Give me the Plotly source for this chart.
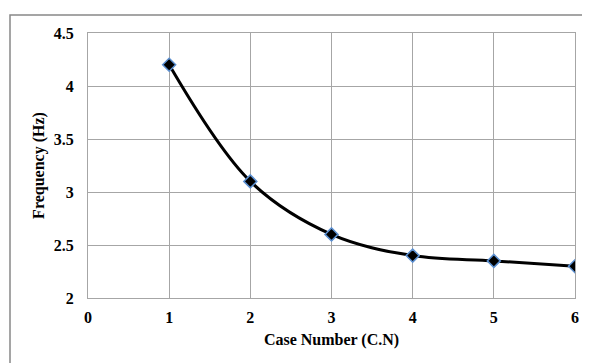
import plotly.graph_objects as go

case_numbers = [1, 2, 3, 4, 5, 6]
frequency = [4.2, 3.1, 2.6, 2.4, 2.35, 2.3]
x_ticks = [0, 1, 2, 3, 4, 5, 6]
y_ticks = [2, 2.5, 3, 3.5, 4, 4.5]

font = dict(family="Liberation Serif", color="black", size=16)

fig = go.Figure()
fig.add_trace(go.Scatter(
    x=case_numbers, y=frequency, mode="lines+markers",
    line=dict(color="black", width=3, shape="spline", smoothing=1.0),
    marker=dict(symbol="diamond", size=10, color="black",
                line=dict(color="#5b8fd0", width=1.5)),
    showlegend=False,
))

# page body adds an 8px offset, so the figure is sized 8px smaller
W, H = 582, 355
fig.update_layout(
    width=W, height=H,
    margin=dict(l=80, r=15, t=25, b=65),
    paper_bgcolor="white", plot_bgcolor="white",
    font=font,
    xaxis=dict(range=[0, 6], tickvals=x_ticks, ticktext=[f"<b>{v}</b>" for v in x_ticks],
               showgrid=True, gridcolor="#a6a6a6", gridwidth=1,
               showline=True, linecolor="#a6a6a6", mirror=True, zeroline=False,
               ticks="outside", ticklen=5, tickcolor="rgba(0,0,0,0)",
               title=dict(text="<b>Case Number (C.N)</b>", font=dict(size=16, family="Liberation Serif"), standoff=8)),
    yaxis=dict(range=[2, 4.5], tickvals=y_ticks,
               ticktext=[f"<b>{v:g}</b>" for v in y_ticks],
               showgrid=True, gridcolor="#a6a6a6", gridwidth=1,
               showline=True, linecolor="#a6a6a6", mirror=True, zeroline=False,
               ticks="outside", ticklen=10, tickcolor="rgba(0,0,0,0)",
               title=dict(text="<b>Frequency (Hz)</b>", font=dict(size=16, family="Liberation Serif"), standoff=5)),
    shapes=[dict(type="rect", xref="paper", yref="paper",
                 x0=-78 / 487, x1=1.2, y0=-0.5, y1=1 + 18 / 265,
                 line=dict(color="#888888", width=1.5), fillcolor="rgba(0,0,0,0)", layer="below")],
)

fig.write_html("out.html")
